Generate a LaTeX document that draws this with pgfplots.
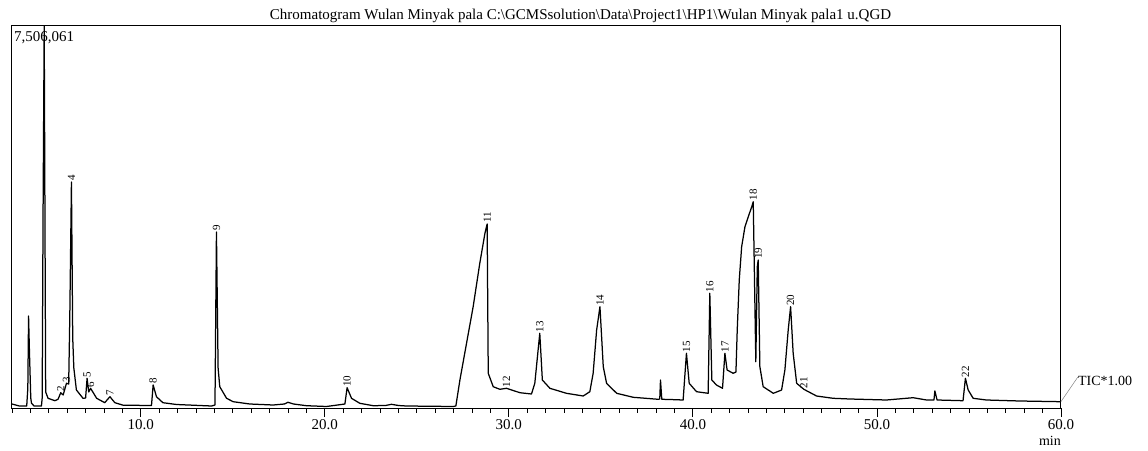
\documentclass[border=0pt]{standalone}
\usepackage{fontspec}
\setmainfont{Liberation Serif}
\usepackage{pgfplots}
\pgfplotsset{compat=1.18}

\begin{document}
\begin{tikzpicture}
\begin{axis}[
    at={(0,0)}, anchor=south west,
    scale only axis,
    width=1049pt, height=382pt,
    xmin=3, xmax=60,
    ymin=0, ymax=382,
    ytick=\empty,
    xtick={10,20,...,60},
    minor xtick={3,4,...,60},
    xtick pos=bottom,
    tick align=outside,
    major tick length=9pt,
    minor tick length=4.5pt,
    axis line style={line width=1pt},
    every tick/.style={black, line width=0.8pt},
    xticklabel style={font=\fontsize{15}{15}\selectfont, yshift=1pt,
        /pgf/number format/.cd, fixed, fixed zerofill, precision=1, assume math mode=true},
    clip=false,
]
% TIC trace
\addplot[black, line width=1.25pt, line join=round] coordinates {
(3.0,4) (3.4,2) (3.8,2) (3.86,20) (3.9,92) (3.95,55) (4.02,10) (4.06,4.7) (4.2,2) (4.6,2)
(4.64,10) (4.69,200) (4.75,382) (4.8,150) (4.83,16) (4.96,9.7) (5.33,7.3) (5.5,8.7)
(5.65,15.3) (5.78,13) (5.96,24.7) (6.08,24) (6.14,90) (6.23,226) (6.3,70) (6.36,40)
(6.5,18) (6.86,9.7) (7.0,10) (7.08,29.7) (7.17,16) (7.27,19.7) (7.6,9.7) (8.04,5.3)
(8.32,11.3) (8.59,5.3) (9.04,2.8) (10.58,2.5) (10.67,23) (10.85,11.3) (11.2,5.3) (11.94,3.5)
(13.84,2) (14.03,3) (14.11,176) (14.2,40) (14.29,21.3) (14.66,9.7) (15.02,6.3) (15.92,4)
(17.19,3) (17.8,4) (18.0,5.7) (18.3,4) (19.0,2.3) (20.09,1.5) (21.09,4) (21.21,20.3)
(21.45,9.7) (21.9,4.7) (22.63,2.3) (23.3,2.5) (23.62,3.7) (24.0,2.5) (24.44,2) (26.97,1.5)
(27.12,2) (27.34,28) (27.7,64.7) (28.06,101.3) (28.42,144.7) (28.7,174.7) (28.82,184)
(28.88,34.7) (29.15,21.3) (29.51,18.7) (29.87,19.7) (30.6,15.3) (31.23,14) (31.41,24.7)
(31.68,74.7) (31.82,28) (32.23,19.7) (33.13,14.7) (34.04,12) (34.4,16.3) (34.58,34.7)
(34.77,78) (34.95,101.3) (35.13,41.3) (35.31,24.7) (35.86,14.7) (36.76,10.7) (38.12,8.7)
(38.2,9) (38.24,28) (38.31,8.7) (38.75,8.5) (39.47,8) (39.65,54.7) (39.8,24.7) (40.2,16.3)
(40.83,14.7) (40.92,114.7) (41.03,28) (41.28,23) (41.61,19.7) (41.74,54.7) (41.86,38)
(42.19,34.7) (42.34,36) (42.41,78) (42.52,128) (42.65,161.3) (42.83,181.3) (43.01,191.3)
(43.2,201.3) (43.28,206.3) (43.42,46.3) (43.5,141.3) (43.55,148) (43.64,41.3) (43.82,21.3)
(44.37,14.7) (44.82,18) (45.0,38) (45.18,78) (45.31,101.3) (45.45,54.7) (45.64,24.7)
(46.03,18.7) (46.72,12) (47.62,9.7) (48.53,9) (50.52,8) (51.97,10.3) (52.7,8) (53.1,8)
(53.15,17) (53.27,8) (54.68,7.3) (54.81,29.7) (54.96,18) (55.23,9.7) (55.95,8) (57.77,7)
(60,6.3)
};
% peak numbers
\addplot[draw=none, mark=none, nodes near coords, point meta=explicit symbolic,
    every node near coord/.append style={rotate=90, anchor=west, inner sep=1pt,
        font=\fontsize{11}{11}\selectfont}]
table[meta=n] {
t h n
5.65 15.3 2
5.96 24.7 3
6.23 226 4
7.08 29.7 5
7.27 19.7 6
8.32 11.3 7
10.67 23 8
14.11 176 9
21.21 20.3 10
28.82 184 11
29.87 19.7 12
31.68 74.7 13
34.95 101.3 14
39.65 54.7 15
40.92 114.7 16
41.74 54.7 17
43.28 206.3 18
43.55 148 19
45.31 101.3 20
46.03 18.7 21
54.81 29.7 22
};
\node[anchor=north west, inner sep=0pt, font=\fontsize{15}{15}\selectfont]
    at ([xshift=2pt,yshift=-5pt]rel axis cs:0,1) {7,506,061};
\draw[gray, line width=0.5pt] (axis cs:60,6.3) -- (axis cs:60.92,31);
\node[anchor=west, inner sep=0pt, font=\fontsize{14}{14}\selectfont]
    at (axis cs:60.92,27) {TIC*1.00};
\node[anchor=base, inner sep=0pt, font=\fontsize{15}{15}\selectfont]
    at ([yshift=6pt]rel axis cs:0.542,1) {Chromatogram Wulan Minyak pala C:\textbackslash GCMSsolution\textbackslash Data\textbackslash Project1\textbackslash HP1\textbackslash Wulan Minyak pala1 u.QGD};
\node[inner sep=0pt, font=\fontsize{14}{14}\selectfont]
    at ([xshift=-11pt,yshift=-33pt]rel axis cs:1,0) {min};
\end{axis}
\path[use as bounding box] (-12pt,-42pt) rectangle (1136pt,408pt);
\end{tikzpicture}
\end{document}
